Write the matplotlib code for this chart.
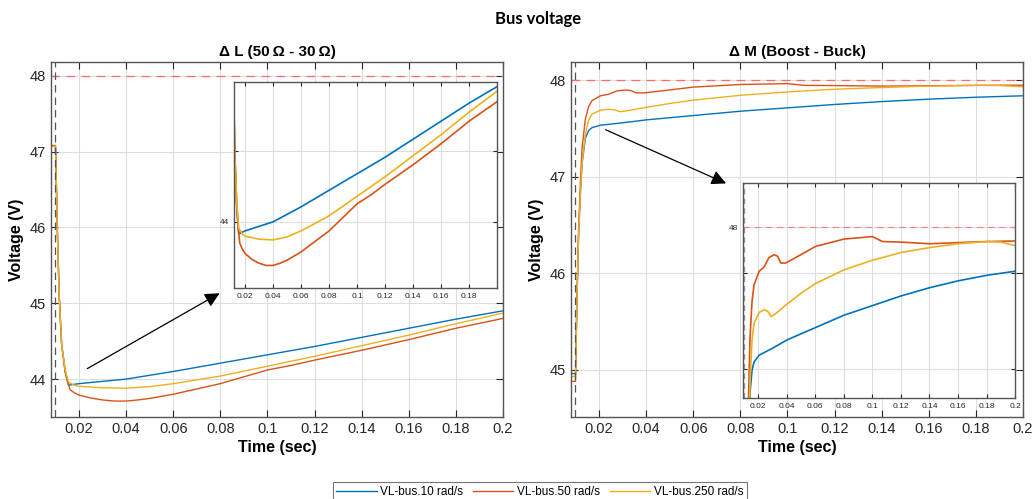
import matplotlib.pyplot as plt
from matplotlib.ticker import FormatStrFormatter

plt.rcParams['font.family'] = ['Liberation Sans', 'DejaVu Sans']

################################################################################
# Data.                                            #
################################################################################

labels = ['VL-bus.10 rad/s', 'VL-bus.50 rad/s', 'VL-bus.250 rad/s']
colors = ['#0072BD', '#D95319', '#EDB120']
v_ref  = 48.0
t_step = 0.01

# Delta L (50 ohm -> 30 ohm).
t_dl_10  = [0.008, 0.0100, 0.0101, 0.0108, 0.0116, 0.0126, 0.0141, 0.0155, 0.020, 0.040, 0.060,
            0.080, 0.100, 0.120, 0.140, 0.160, 0.180, 0.200]
v_dl_10  = [47.07, 47.07, 46.98, 45.97, 45.09, 44.47, 44.10, 43.92, 43.94, 44.00, 44.10,
            44.21, 44.32, 44.43, 44.55, 44.67, 44.79, 44.90]
t_dl_50  = [0.008, 0.0100, 0.0101, 0.0108, 0.0116, 0.0126, 0.0141, 0.0150, 0.0162, 0.018, 0.020,
            0.025, 0.030, 0.035, 0.040, 0.045, 0.050, 0.060, 0.070, 0.080, 0.090, 0.100, 0.110,
            0.120, 0.140, 0.160, 0.180, 0.200]
v_dl_50  = [47.08, 47.08, 46.98, 45.97, 45.09, 44.47, 44.10, 43.98, 43.86, 43.82, 43.79,
            43.75, 43.725, 43.71, 43.71, 43.725, 43.745, 43.80, 43.87, 43.94, 44.03, 44.12, 44.18,
            44.25, 44.38, 44.52, 44.67, 44.80]
t_dl_250 = [0.008, 0.0100, 0.0101, 0.0108, 0.0116, 0.0126, 0.0141, 0.0155, 0.018, 0.020, 0.030,
            0.040, 0.050, 0.060, 0.070, 0.080, 0.100, 0.120, 0.140, 0.160, 0.180, 0.200]
v_dl_250 = [47.07, 47.07, 46.98, 45.97, 45.09, 44.47, 44.13, 43.96, 43.92, 43.905, 43.885,
            43.88, 43.90, 43.94, 43.99, 44.04, 44.17, 44.30, 44.44, 44.58, 44.73, 44.87]

# Delta M (boost -> buck).
t_dm_10  = [0.008, 0.0100, 0.0106, 0.0113, 0.0121, 0.0128, 0.0142, 0.0156, 0.017, 0.0206, 0.030,
            0.040, 0.060, 0.080, 0.100, 0.120, 0.140, 0.160, 0.180, 0.200]
v_dm_10  = [44.96, 44.96, 45.69, 46.38, 46.83, 47.14, 47.40, 47.48, 47.51, 47.535, 47.56,
            47.59, 47.635, 47.68, 47.715, 47.75, 47.78, 47.805, 47.825, 47.84]
t_dm_50  = [0.008, 0.0100, 0.0106, 0.0113, 0.0121, 0.0128, 0.0142, 0.0156, 0.017, 0.0206, 0.024,
            0.0275, 0.031, 0.0334, 0.0358, 0.0393, 0.0463, 0.060, 0.080, 0.100, 0.107, 0.120,
            0.140, 0.160, 0.180, 0.200]
v_dm_50  = [44.88, 44.88, 45.72, 46.45, 46.95, 47.30, 47.60, 47.73, 47.79, 47.84, 47.855,
            47.89, 47.90, 47.895, 47.87, 47.87, 47.89, 47.93, 47.957, 47.966, 47.948, 47.946,
            47.94, 47.944, 47.948, 47.95]
t_dm_250 = [0.008, 0.0100, 0.0106, 0.0113, 0.0121, 0.0128, 0.0142, 0.0156, 0.017, 0.0206, 0.024,
            0.0265, 0.029, 0.032, 0.040, 0.050, 0.060, 0.080, 0.100, 0.120, 0.140, 0.160, 0.180,
            0.190, 0.200]
v_dm_250 = [44.93, 44.93, 45.69, 46.38, 46.83, 47.14, 47.44, 47.59, 47.65, 47.69, 47.70,
            47.695, 47.675, 47.685, 47.72, 47.76, 47.795, 47.845, 47.88, 47.908, 47.926, 47.94,
            47.948, 47.946, 47.933]

dl = [(t_dl_10, v_dl_10), (t_dl_50, v_dl_50), (t_dl_250, v_dl_250)]
dm = [(t_dm_10, v_dm_10), (t_dm_50, v_dm_50), (t_dm_250, v_dm_250)]

xticks = [0.02, 0.04, 0.06, 0.08, 0.1, 0.12, 0.14, 0.16, 0.18, 0.2]

################################################################################
# Plot.                                                                        #
################################################################################

def style(ax, fs, tl):
  ax.grid(True, color='#dedede', lw=0.8)
  ax.set_axisbelow(True)
  ax.tick_params(direction='in', top=True, right=True, length=tl, width=0.8,
                 labelsize=fs, colors='#262626')
  for s in ax.spines.values():
    s.set_color('#555555')
    s.set_linewidth(1.0)
  ax.xaxis.set_major_formatter(FormatStrFormatter('%g'))

def traces(ax, data, lw=1.0, lab=True):
  lines = []
  for (t, v), c, l in zip(data, colors, labels):
    ln, = ax.plot(t, v, color=c, lw=lw, label=l if lab else None)
    lines.append(ln)
  return lines

fig = plt.figure(figsize=(10.32, 4.99), dpi=100)

ax1 = fig.add_axes([0.0494, 0.1643, 0.438, 0.7114])
ax2 = fig.add_axes([0.5533, 0.1643, 0.438, 0.7114])

# Main panels.
lines = traces(ax1, dl)
traces(ax2, dm, lab=False)
for ax in (ax1, ax2):
  ax.axhline(v_ref, color='#ff6b6b', lw=0.9, ls=(0, (7, 5)))
  ax.axvline(t_step, color='#555555', lw=0.9, ls=(0, (6, 4)))
  ax.set_xlim(0.0081, 0.2)
  ax.set_xticks(xticks)
  style(ax, 10.5, 5)
  ax.set_xlabel('Time (sec)', fontsize=11.5, fontweight='bold', labelpad=3)
  ax.set_ylabel('Voltage (V)', fontsize=11.5, fontweight='bold', labelpad=4)

ax1.set_ylim(43.5, 48.18)
ax1.set_yticks([44, 45, 46, 47, 48])
ax2.set_ylim(44.51, 48.19)
ax2.set_yticks([45, 46, 47, 48])

ax1.set_title('\u0394 L (50\u2009\u03a9 - 30\u2009\u03a9)', fontsize=11, fontweight='bold', pad=4)
ax2.set_title('\u0394 M (Boost - Buck)', fontsize=11, fontweight='bold', pad=4)

# Zoom arrows.
ax1.annotate('', xy=(0.0807, 45.15), xytext=(0.0225, 44.12),
             arrowprops=dict(arrowstyle='-|>', color='black', lw=0.9, mutation_scale=22))
ax2.annotate('', xy=(0.075, 46.92), xytext=(0.0217, 47.50),
             arrowprops=dict(arrowstyle='-|>', color='black', lw=0.9, mutation_scale=22))

# Insets.
in1 = fig.add_axes([0.2267, 0.4228, 0.2548, 0.4128])
traces(in1, dl, lw=1.2, lab=False)
in1.set_xlim(0.0121, 0.1998)
in1.set_ylim(43.56, 44.93)
in1.set_xticks(xticks[:-1])
in1.set_yticks([44, 44.47])
in1.set_yticklabels(['44', ''])
style(in1, 6, 3)

in2 = fig.add_axes([0.72, 0.2024, 0.2636, 0.4309])
traces(in2, dm, lw=1.2, lab=False)
in2.axhline(v_ref, color='#ff8080', lw=0.8, ls=(0, (6, 4)))
in2.axvline(t_step, color='#999999', lw=1.0, ls=(0, (4, 3)))
in2.set_xlim(0.0093, 0.2)
in2.set_ylim(47.379, 48.161)
in2.set_xticks(xticks)
in2.set_yticks([47.484, 47.833, 48])
in2.set_yticklabels(['', '', '48'])
style(in2, 6, 3)

# Title and legend.
fig.text(0.521, 0.962, 'Bus voltage', ha='center', va='center', fontsize=12,
         fontweight='bold', family=['Lato', 'DejaVu Sans'])
leg = fig.legend(handles=lines, loc='lower center', bbox_to_anchor=(0.523, -0.012), ncol=3,
                 fontsize=8.5, frameon=True, fancybox=False, handlelength=3.4,
                 borderpad=0.3, columnspacing=0.85, handletextpad=0.3, borderaxespad=0.3)
leg.get_frame().set_edgecolor('#555555')
leg.get_frame().set_linewidth(0.8)

# Save figure.
fig.savefig('out.png', dpi=100)
plt.close()
